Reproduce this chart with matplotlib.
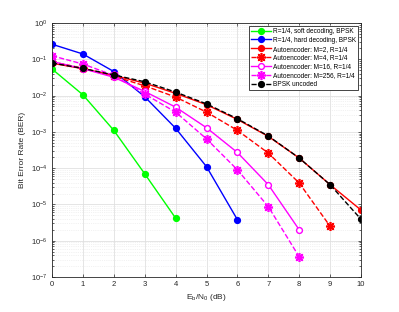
import matplotlib
matplotlib.use("Agg")
import matplotlib.pyplot as plt
import numpy as np
from matplotlib.ticker import LogLocator, NullFormatter

soft_x = [0, 1, 2, 3, 4]
soft_ber = [0.054, 0.0105, 1.1e-3, 7e-5, 4.2e-6]

hard_x = [0, 1, 2, 3, 4, 5, 6]
hard_ber = [0.26, 0.14, 0.046, 9.3e-3, 1.26e-3, 1.1e-4, 3.8e-6]

ae2_x = list(range(0, 11))
ae2_ber = [0.078, 0.055, 0.036, 0.022, 0.0115, 5.6e-3, 2.2e-3, 7.5e-4, 1.9e-4, 3.5e-5, 7e-6]

ae4_x = list(range(0, 10))
ae4_ber = [0.085, 0.057, 0.034, 0.0186, 9.1e-3, 3.5e-3, 1.1e-3, 2.6e-4, 3.9e-5, 2.5e-6]

ae16_x = list(range(0, 9))
ae16_ber = [0.087, 0.055, 0.032, 0.013, 4.8e-3, 1.3e-3, 2.7e-4, 3.5e-5, 2.0e-6]

ae256_x = list(range(0, 9))
ae256_ber = [0.125, 0.074, 0.036, 0.011, 3.5e-3, 6.4e-4, 9e-5, 8.7e-6, 3.6e-7]

bpsk_x = list(range(0, 11))
bpsk_ber = [0.079, 0.056, 0.037, 0.024, 0.0125, 5.9e-3, 2.3e-3, 7.7e-4, 1.9e-4, 3.5e-5, 3.9e-6]

labels = ["R=1/4, soft decoding, BPSK", "R=1/4, hard decoding, BPSK",
          "Autoencoder: M=2, R=1/4", "Autoencoder: M=4, R=1/4",
          "Autoencoder: M=16, R=1/4", "Autoencoder: M=256, R=1/4",
          "BPSK uncoded"]

plt.rcParams['font.family'] = ['Liberation Sans', 'DejaVu Sans']

fig = plt.figure(figsize=(3.99, 3.12), dpi=100)
ax = fig.add_axes([52/399, 1-277/312, (361-52)/399, (277-23)/312])

ast = (8, 2, 0)
lw = 1.0
ms = 4.2
ax.semilogy(soft_x, soft_ber, '-o', color='#00ff00', lw=lw, ms=ms, mfc='#00ff00', mec='#00ff00', label=labels[0])
ax.semilogy(hard_x, hard_ber, '-o', color='#0000ff', lw=lw, ms=ms, mfc='#0000ff', mec='#0000ff', label=labels[1])
ax.semilogy(ae2_x, ae2_ber, '-o', color='#ff0000', lw=lw, ms=ms, mfc='#ff0000', mec='#ff0000', label=labels[2])
ax.semilogy(ae4_x, ae4_ber, '--', marker=ast, color='#ff0000', lw=lw, ms=6.5, mew=1.2, label=labels[3])
ax.semilogy(ae16_x, ae16_ber, '-o', color='#ff00ff', lw=lw, ms=ms, mfc='white', mec='#ff00ff', mew=1.0, label=labels[4])
ax.semilogy(ae256_x, ae256_ber, '--', marker=ast, color='#ff00ff', lw=lw, ms=6.5, mew=1.2, label=labels[5])
ax.semilogy(bpsk_x, bpsk_ber, '--o', color='black', lw=lw, ms=ms, mfc='black', mec='black', label=labels[6])

ax.set_xlim(0, 10)
ax.set_ylim(1e-7, 1)
ax.set_xticks(range(0, 11))
ax.yaxis.set_major_locator(LogLocator(base=10, numticks=20))
ax.yaxis.set_minor_locator(LogLocator(base=10, subs=np.arange(2, 10), numticks=20))
ax.yaxis.set_minor_formatter(NullFormatter())

ax.grid(True, which='major', color='#e0e0e0', lw=0.6)
ax.grid(True, which='minor', axis='y', color='#e6e6e6', lw=0.5, ls=':')
ax.set_axisbelow(True)

for sp in ax.spines.values():
    sp.set_color('#262626')
    sp.set_linewidth(0.6)
ax.tick_params(which='both', direction='in', colors='#262626', labelsize=5.5, length=2.5, width=0.5, top=True, right=True)
ax.tick_params(which='minor', length=1.5)
ax.tick_params(axis='x', pad=3)

ax.set_xlabel(r'E$_\mathregular{b}$/N$_\mathregular{0}$ (dB)', fontsize=6, color='#262626', labelpad=3)
ax.set_ylabel('Bit Error Rate (BER)', fontsize=6, color='#262626', labelpad=3)

leg = ax.legend(loc='upper right', fontsize=4.7, frameon=True, fancybox=False,
                edgecolor='#262626', framealpha=1, borderpad=0.35, labelspacing=0.28,
                handlelength=3.0, handletextpad=0.3, borderaxespad=0.4)
leg.get_frame().set_linewidth(0.6)

fig.savefig('out.png', dpi=100, facecolor='white')
